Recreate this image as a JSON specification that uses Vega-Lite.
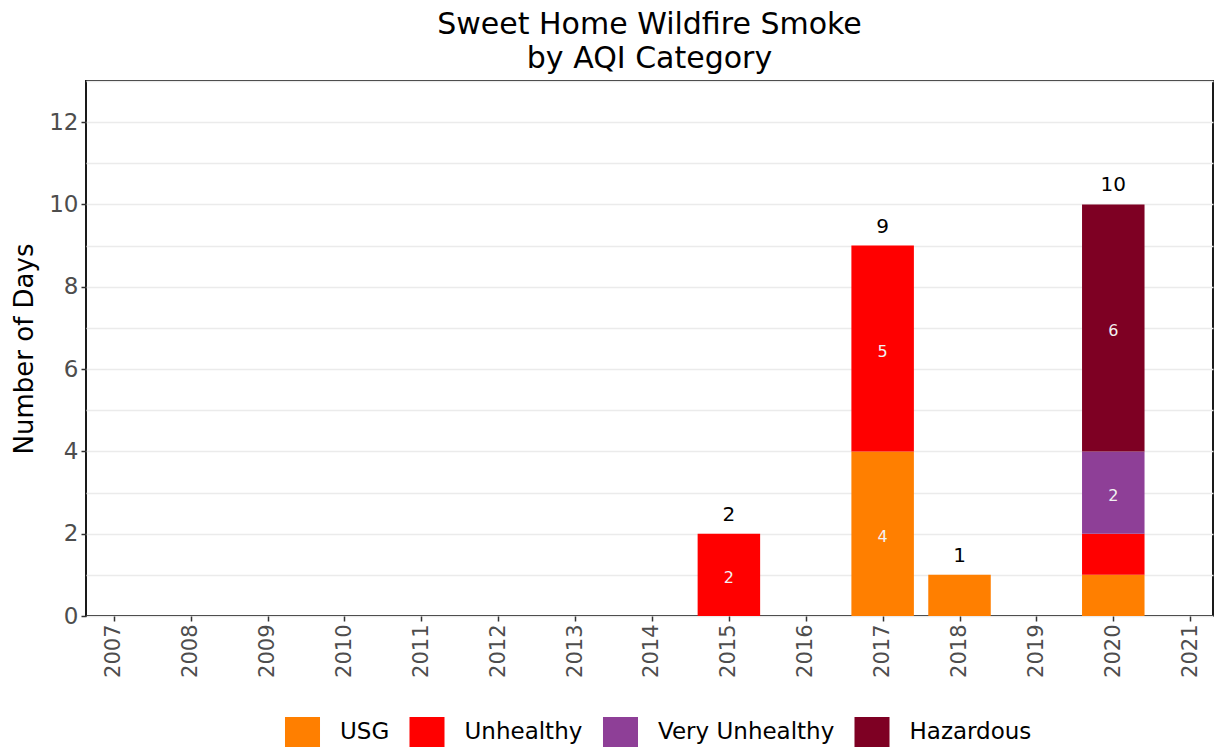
{
  "$schema": "https://vega.github.io/schema/vega-lite/v6.json",
  "width": 1127,
  "height": 535,
  "autosize": {"type": "none"},
  "padding": {"left": 86, "top": 81, "right": 1, "bottom": 134},
  "background": "white",
  "config": {
    "font": "DejaVu Sans",
    "view": {"stroke": "#1A1A1A", "strokeWidth": 2},
    "axis": {"labelFont": "DejaVu Sans", "titleFont": "DejaVu Sans"}
  },
  "title": {
    "text": ["Sweet Home Wildfire Smoke", "by AQI Category"],
    "anchor": "middle",
    "frame": "group",
    "fontSize": 30,
    "fontWeight": "normal",
    "color": "black",
    "lineHeight": 34,
    "offset": 7
  },
  "data": {
    "values": [
      {"year": 2015, "category": "Unhealthy", "level": 2, "days": 2},
      {"year": 2017, "category": "USG", "level": 1, "days": 4},
      {"year": 2017, "category": "Unhealthy", "level": 2, "days": 5},
      {"year": 2018, "category": "USG", "level": 1, "days": 1},
      {"year": 2020, "category": "USG", "level": 1, "days": 1},
      {"year": 2020, "category": "Unhealthy", "level": 2, "days": 1},
      {"year": 2020, "category": "Very Unhealthy", "level": 3, "days": 2},
      {"year": 2020, "category": "Hazardous", "level": 4, "days": 6}
    ]
  },
  "transform": [
    {"stack": "days", "groupby": ["year"], "sort": [{"field": "level", "order": "ascending"}], "as": ["y0", "y1"]}
  ],
  "resolve": {"axis": {"y": "independent"}},
  "layer": [
    {
      "mark": {"type": "bar", "width": 62.5},
      "encoding": {
        "x": {
          "field": "year", "type": "quantitative",
          "scale": {"domain": [2006.703, 2021.232], "nice": false, "zero": false},
          "axis": {
            "values": [2007, 2008, 2009, 2010, 2011, 2012, 2013, 2014, 2015, 2016, 2017, 2018, 2019, 2020, 2021],
            "format": "d", "labelAngle": -90, "labelFontSize": 21, "labelColor": "#4D4D4D",
            "tickColor": "#333333", "tickSize": 5, "tickWidth": 1.5, "labelPadding": 3,
            "grid": false, "domain": false, "title": null
          }
        },
        "y": {
          "field": "y0", "type": "quantitative",
          "scale": {"domain": [0, 13], "nice": false, "zero": true},
          "axis": {
            "orient": "left",
            "values": [0, 1, 2, 3, 4, 5, 6, 7, 8, 9, 10, 11, 12, 13],
            "grid": true, "gridColor": "#EBEBEB", "gridWidth": 1.5,
            "labels": false, "ticks": false, "domain": false, "title": null
          }
        },
        "y2": {"field": "y1"},
        "color": {
          "field": "category", "type": "nominal",
          "scale": {
            "domain": ["USG", "Unhealthy", "Very Unhealthy", "Hazardous"],
            "range": ["#FF7F00", "#FF0000", "#8E3F97", "#7E0023"]
          },
          "legend": {
            "orient": "none", "direction": "horizontal",
            "legendX": 201.5, "legendY": 636,
            "title": null,
            "symbolType": "M-1.167,-1H1.167V1H-1.167Z",
            "symbolSize": 900, "symbolStrokeWidth": 0, "symbolOpacity": 1,
            "labelFontSize": 23, "labelFont": "DejaVu Sans", "labelColor": "black",
            "labelLimit": 400,
            "labelOffset": 22.5, "columnPadding": 19.5, "padding": 0
          }
        }
      }
    },
    {
      "transform": [
        {"filter": "datum.days > 1"},
        {"fold": ["y0", "y1"], "as": ["edge", "pos"]},
        {"aggregate": [{"op": "mean", "field": "pos", "as": "mid"}], "groupby": ["year", "category", "days"]}
      ],
      "mark": {"type": "text", "color": "#F2F2F2", "fontSize": 16, "baseline": "middle", "align": "center", "dy": 3},
      "encoding": {
        "x": {"field": "year", "type": "quantitative"},
        "y": {
          "field": "mid", "type": "quantitative",
          "axis": {
            "orient": "left",
            "values": [0, 2, 4, 6, 8, 10, 12],
            "grid": false, "domain": false,
            "labelFontSize": 23, "labelColor": "#4D4D4D", "labelPadding": 3,
            "tickColor": "#333333", "tickSize": 5, "tickWidth": 1.5,
            "title": "Number of Days", "titleFontSize": 26, "titleFontWeight": "normal",
            "titleColor": "black", "titlePadding": 11
          }
        },
        "text": {"field": "days", "type": "quantitative"}
      }
    },
    {
      "transform": [
        {"aggregate": [{"op": "sum", "field": "days", "as": "total"}], "groupby": ["year"]}
      ],
      "mark": {"type": "text", "color": "black", "fontSize": 20, "baseline": "alphabetic", "align": "center", "dy": -13},
      "encoding": {
        "x": {"field": "year", "type": "quantitative"},
        "y": {"field": "total", "type": "quantitative", "axis": null},
        "text": {"field": "total", "type": "quantitative"}
      }
    }
  ]
}
